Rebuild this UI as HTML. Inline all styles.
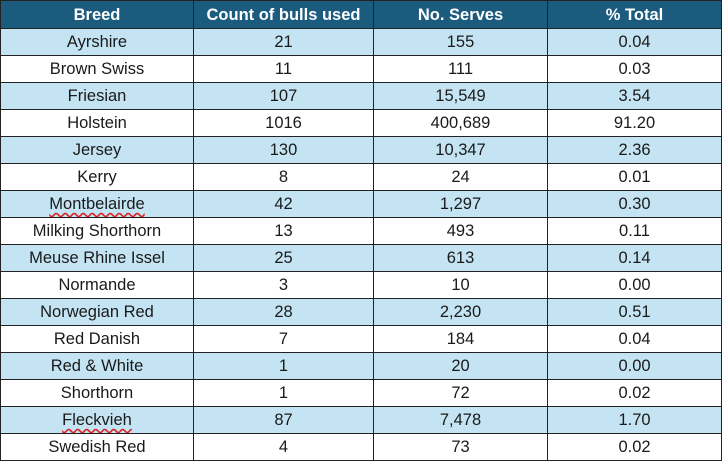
<!DOCTYPE html>
<html><head><meta charset="utf-8"><style>
body{margin:0;width:722px;height:463px;background:#fff;overflow:hidden}
table{position:absolute;left:0;top:0;border-collapse:collapse;width:721px;table-layout:fixed;font-family:"Liberation Sans",sans-serif;font-size:16.5px;color:#1a1a1a}
td,th{border:1px solid #222;text-align:center;padding:0;height:26px;line-height:26px;white-space:nowrap;overflow:hidden}
th{background:#1b5b7e;color:#fff;font-weight:bold;height:27px}
tr.b td{background:#c4e4f3}
.sq{text-decoration:underline wavy #d22;text-underline-offset:3px}
</style></head><body>
<table>
<colgroup><col style="width:193px"><col style="width:180px"><col style="width:174px"><col style="width:174px"></colgroup>
<thead><tr>
<th>Breed</th>
<th>Count of bulls used</th>
<th>No. Serves</th>
<th>% Total</th></tr></thead>
<tbody id="tb"></tbody></table>
<script>
const breeds=["Ayrshire","Brown Swiss","Friesian","Holstein","Jersey","Kerry","Montbelairde","Milking Shorthorn","Meuse Rhine Issel","Normande","Norwegian Red","Red Danish","Red & White","Shorthorn","Fleckvieh","Swedish Red"];
const counts=["21","11","107","1016","130","8","42","13","25","3","28","7","1","1","87","4"];
const serves=["155","111","15,549","400,689","10,347","24","1,297","493","613","10","2,230","184","20","72","7,478","73"];
const pcts=["0.04","0.03","3.54","91.20","2.36","0.01","0.30","0.11","0.14","0.00","0.51","0.04","0.00","0.02","1.70","0.02"];
const tb=document.getElementById('tb');
breeds.forEach((b,i)=>{
 const tr=document.createElement('tr');
 
 
 if(i%2===0)tr.className='b';
 [[b,'breed-cell'],[counts[i],'count-cell'],[serves[i],'serves-cell'],[pcts[i],'percent-cell']].forEach(([v,n],j)=>{
  const td=document.createElement('td');
  
  
  if(j===0&&(b==="Montbelairde"||b==="Fleckvieh")){const s=document.createElement('span');s.className='sq';s.textContent=v;td.appendChild(s);}
  else td.textContent=v;
  tr.appendChild(td);
 });
 tb.appendChild(tr);
});
</script>
</body></html>
